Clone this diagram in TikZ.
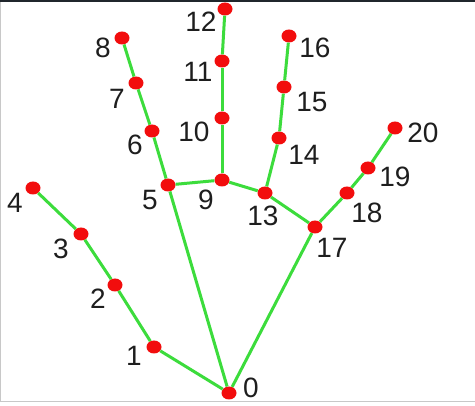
\documentclass[tikz,border=0pt]{standalone}
\usepackage{fontspec}
\setmainfont{Liberation Sans}
\usetikzlibrary{shapes.geometric}
\definecolor{Bone}{HTML}{3CDC3C}
\definecolor{Joint}{HTML}{F20D0D}
\definecolor{Ink}{HTML}{1E1E1E}
\definecolor{Edge}{HTML}{C8C8C8}
\definecolor{TopBar}{HTML}{20262C}

\begin{document}
\begin{tikzpicture}[x=1pt,y=-1pt,
    joint/.style={ellipse,fill=Joint,inner sep=0pt,minimum width=15pt,minimum height=13pt},
    num/.style={text=Ink,inner sep=0pt,font=\fontsize{28}{28}\selectfont},
    bone/.style={Bone,line width=3pt}]
  \useasboundingbox (0,0) rectangle (475,406);
  \fill[white] (0,0) rectangle (475,406);
  \fill[TopBar] (0,0) rectangle (475,2.5);
  \draw[Edge,line width=1pt] (0.5,2.5) -- (0.5,401.5) -- (475,401.5);
  % joints
  \foreach \i/\x/\y in {0/229/393,1/154/347,2/115/285,3/81/234,4/33/188,
      5/168/185,6/152/131,7/136/83,8/122/38,
      9/222/180,10/222/118,11/222/61,12/225/9,
      13/265/193,14/279/138,15/284/87,16/289/36,
      17/315/227,18/347/193,19/368/168,20/395/128}
    \node[joint] (j\i) at (\x,\y) {};
  % bones
  \foreach \a/\b in {0/1,1/2,2/3,3/4,0/5,5/6,6/7,7/8,5/9,9/10,10/11,11/12,
      9/13,13/14,14/15,15/16,13/17,0/17,17/18,18/19,19/20}
    \draw[bone] (j\a) -- (j\b);
  % numbers
  \foreach \i/\x/\y in {0/251/388,1/134/356,2/98/299,3/61/249,4/15/203,
      5/150/200,6/135/145,7/117/99,8/103/48,
      9/206/200,10/194/132,11/198/72,12/201/22,
      13/263/216,14/304/155,15/312/102,16/315/48,
      17/332/248,18/367/213,19/395/177,20/423/133}
    \node[num] (n\i) at (\x,\y) {\i};
\end{tikzpicture}
\end{document}
